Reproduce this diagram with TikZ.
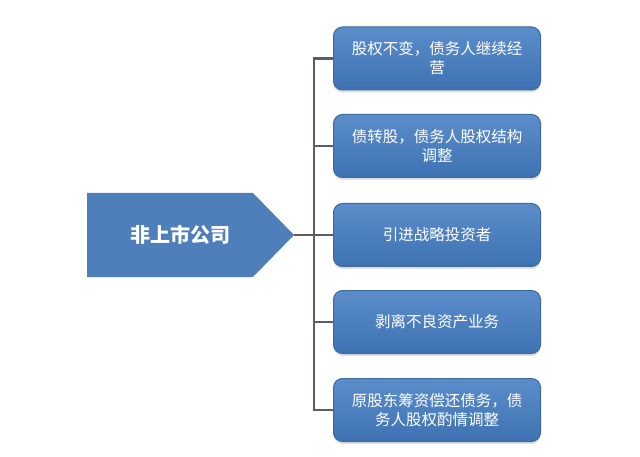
\documentclass[tikz,border=0pt]{standalone}
\usepackage{fontspec}
\setmainfont{Noto Sans CJK SC}
\usetikzlibrary{shadows}
\definecolor{boxtop}{HTML}{5B8DCB}
\definecolor{boxbot}{HTML}{3F72B2}
\definecolor{boxedge}{HTML}{3C6A9C}
\definecolor{mainblue}{HTML}{4F7FBA}
\definecolor{linegray}{HTML}{5A5F66}
\begin{document}
\begin{tikzpicture}[x=1pt,y=-1pt,
  item/.style={rounded corners=9pt, draw=boxedge, line width=1pt,
    top color=boxtop, bottom color=boxbot, minimum width=207pt, minimum height=63pt,
    align=center, text=white, font=\fontsize{15.5}{19}\selectfont,
    inner sep=0pt, anchor=west,
    drop shadow={shadow xshift=0pt, shadow yshift=-2.5pt, opacity=0.25}},
  link/.style={draw=linegray, line width=2.2pt}]
\useasboundingbox (0,0) rectangle (640,457);
% left pentagon
\fill[mainblue] (87,193) -- (253,193) -- (294,235) -- (253,277) -- (87,277) -- cycle;
\node[text=white, font=\fontsize{20}{24}\selectfont\bfseries] (main) at (180,235) {非上市公司};
\coordinate (tip) at (294,235);
\coordinate (trunk) at (314,235);
\node[item] (b1) at (333,58.5) {股权不变，债务人继续经\\营};
\node[item] (b2) at (333,146) {债转股，债务人股权结构\\调整};
\node[item] (b3) at (333,235) {引进战略投资者};
\node[item] (b4) at (333,322) {剥离不良资产业务};
\node[item] (b5) at (333,410) {原股东筹资偿还债务，债\\务人股权酌情调整};
\coordinate (t1) at (314,58.5);
\coordinate (t5) at (314,410);
\path[link] (tip) -- (trunk);
\path[link, line cap=rect] (t1) -- (t5);
\foreach \n in {1,...,5} { \path[link] (trunk |- b\n.west) -- (b\n.west); }
\end{tikzpicture}
\end{document}
